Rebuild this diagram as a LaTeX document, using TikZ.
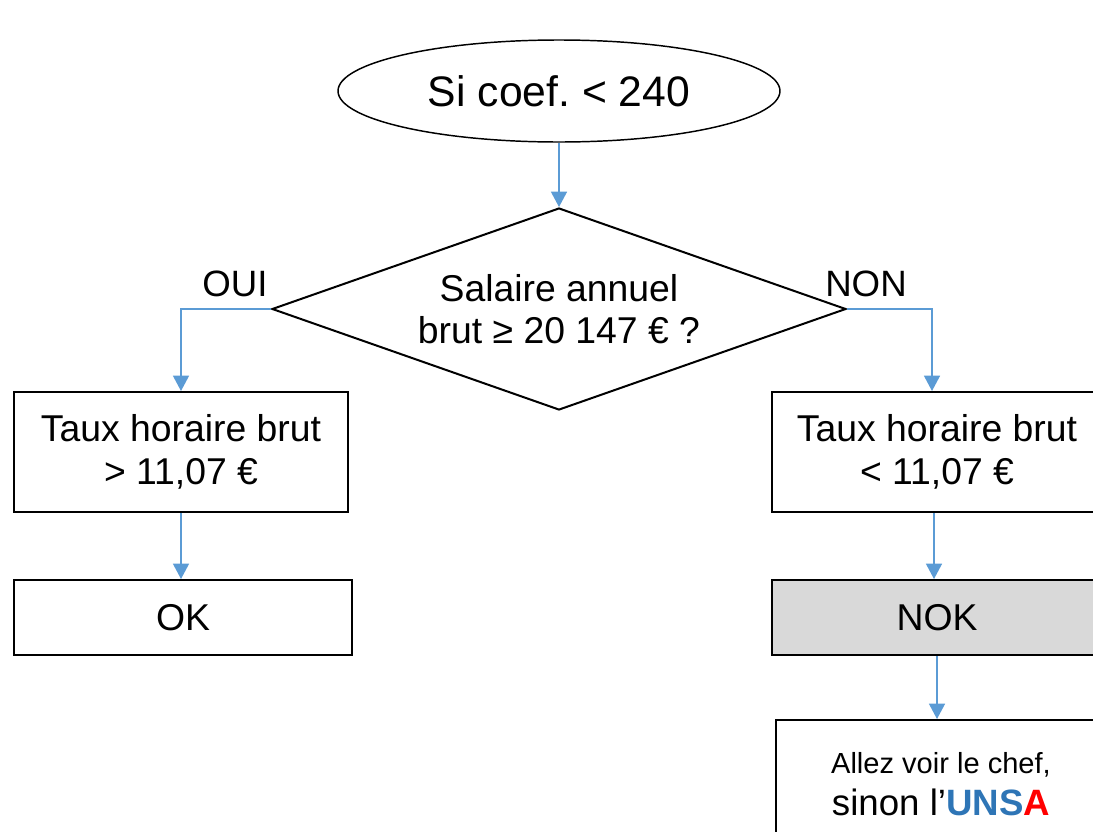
\documentclass[tikz,border=0pt]{standalone}
\usepackage{fontspec}
\setmainfont{Liberation Sans}
\usetikzlibrary{shapes.geometric,arrows.meta}
\definecolor{arrblue}{HTML}{5B9BD5}
\definecolor{unsablue}{HTML}{2E75B6}
\definecolor{unsared}{HTML}{FF0000}
\definecolor{nokgray}{HTML}{D9D9D9}
\tikzset{
  box/.style={draw=black, line width=1.5pt, rectangle, inner sep=0pt, align=center,
    font=\fontsize{28}{32}\selectfont},
  arr/.style={draw=arrblue, line width=1.1pt, -{Triangle[length=11.5pt,width=12pt]}},
  lbl/.style={font=\fontsize{27.5}{32}\selectfont, inner sep=0pt},
}
\frenchspacing
\begin{document}
\begin{tikzpicture}[x=0.75pt,y=-0.75pt]
\useasboundingbox (0,0) rectangle (1093,832);
\clip (0,0) rectangle (1093,832);

\node[ellipse, draw, line width=1.1pt, minimum width={442*0.75pt}, minimum height={102*0.75pt},
  inner sep=0pt, font=\fontsize{32}{38}\selectfont] (ell) at (559,91) {Si coef. < 240};

\node[diamond, draw, line width=1.5pt, aspect=2.84, minimum width={574*0.75pt},
  minimum height={202*0.75pt}, inner sep=0pt, align=center,
  font=\fontsize{28}{32}\selectfont] (dia) at (559,309) {Salaire annuel\\brut ≥ 20 147 € ?};

\node[lbl] (oui) at (235,284) {OUI};
\node[lbl] (non) at (866,284) {NON};

\node[box, minimum width={334*0.75pt}, minimum height={120*0.75pt}] (b1) at (181,452)
  {Taux horaire brut\\> 11,07 €};
\node[box, minimum width={338*0.75pt}, minimum height={75*0.75pt}] (ok) at (183,617.5) {OK};

\node[box, minimum width={330*0.75pt}, minimum height={120*0.75pt}] (b2) at (937,452)
  {Taux horaire brut\\< 11,07 €};
\node[box, fill=nokgray, minimum width={330*0.75pt}, minimum height={75*0.75pt}] (nok) at (937,617.5) {NOK};
\node[box, minimum width={330*0.75pt}, minimum height={128*0.75pt}] (chef) at (941,784)
  {{\fontsize{21.8}{31}\selectfont Allez voir le chef,}\\
   {\fontsize{27.5}{31}\selectfont sinon l’\textbf{\textcolor{unsablue}{UNS}\textcolor{unsared}{A}}}};

\draw[arr] (ell.south) -- (dia.north);
\draw[arr] (dia.west) -| (b1.north);
\draw[arr] (dia.east) -| ([xshift=-3.75pt]b2.north);
\draw[arr] (b1.south) -- (b1.south |- ok.north);
\draw[arr] ([xshift=-2.25pt]b2.south) -- ([xshift=-2.25pt]b2.south |- nok.north);
\draw[arr] (nok.south) -- (nok.south |- chef.north);
\end{tikzpicture}
\end{document}
